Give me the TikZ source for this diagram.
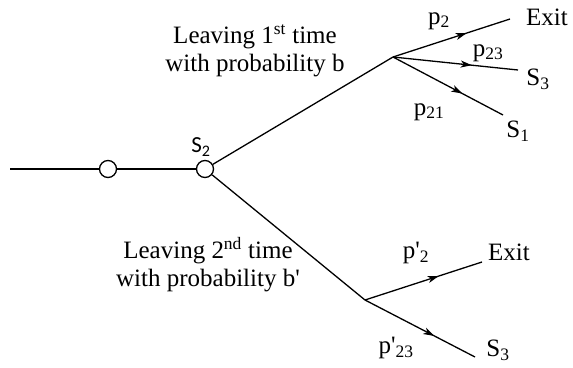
\documentclass[tikz,border=0pt]{standalone}
\usepackage{fontspec}
\newfontfamily\tms{Liberation Serif}
\newfontfamily\crl{Carlito}
\usetikzlibrary{decorations.markings,arrows.meta}
\begin{document}
\begin{tikzpicture}[x=1pt,y=-1pt,
  line width=1.3pt,
  lbl/.style={font=\tms\fontsize{25}{28}\selectfont, inner sep=0pt},
  dot/.style={circle, draw, fill=white, minimum size=17pt, inner sep=0pt, line width=1.3pt},
  flow/.style={postaction={decorate}, decoration={markings,
     mark=at position 0.63 with {\arrow{Stealth[length=11pt,width=7pt,inset=3pt]}}}}]
\useasboundingbox (0,0) rectangle (573,367);
% nodes
\coordinate (in) at (10,169);
\node[dot] (c1) at (108,169) {};
\node[dot] (s2) at (205,169) {};
\coordinate (u) at (393,57);
\coordinate (l) at (365,300);
\coordinate (uexit) at (510,19);
\coordinate (us3) at (518,70);
\coordinate (us1) at (503,115);
\coordinate (lexit) at (482,262);
\coordinate (ls3) at (475,357);
% lines
\draw (in) -- (c1);
\draw (c1) -- (s2);
\draw (s2) -- (u);
\draw (s2) -- (l);
\draw[flow] (u) -- (uexit);
\draw[flow] (u) -- (us3);
\draw[flow] (u) -- (us1);
\draw[flow] (l) -- (lexit);
\draw[flow] (l) -- (ls3);
% labels
\node[font=\crl\fontsize{23}{26}\selectfont, inner sep=0pt] (s2l) at (201,147) {S\textsubscript{2}};
\node[lbl, align=center] (t1) at (255,51) {Leaving 1\textsuperscript{st} time\\with probability b};
\node[lbl, align=center] (t2) at (208,265) {Leaving 2\textsuperscript{nd} time\\with probability b'};
\node[lbl] (p2) at (439,21) {p\textsubscript{2}};
\node[lbl] (p23) at (488,53) {p\textsubscript{23}};
\node[lbl] (p21) at (429,112) {p\textsubscript{21}};
\node[lbl] (ex1) at (547,17) {Exit};
\node[lbl] (s3a) at (538,79) {S\textsubscript{3}};
\node[lbl] (s1) at (518,131) {S\textsubscript{1}};
\node[lbl] (pp2) at (416,253) {p'\textsubscript{2}};
\node[lbl] (ex2) at (509,252) {Exit};
\node[lbl] (pp23) at (396,348) {p'\textsubscript{23}};
\node[lbl] (s3b) at (498,350) {S\textsubscript{3}};
\end{tikzpicture}
\end{document}
